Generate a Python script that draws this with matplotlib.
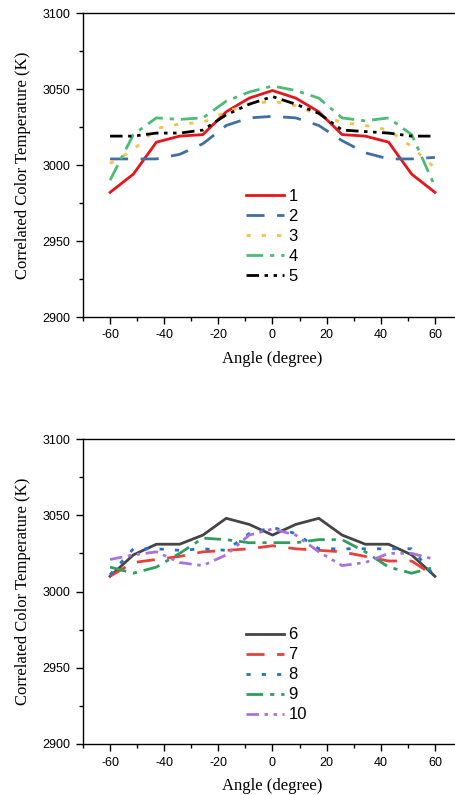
import numpy as np
import matplotlib
matplotlib.use('Agg')
import matplotlib.pyplot as plt

plt.rcParams['lines.scale_dashes'] = False
plt.rcParams['axes.unicode_minus'] = False

# Açılar (-60..60, 15 nokta)
angles = [-60, -51.4, -42.9, -34.3, -25.7, -17.1, -8.6, 0,
          8.6, 17.1, 25.7, 34.3, 42.9, 51.4, 60]

# Üst grafik verileri
cct1 = [2982, 2994, 3015, 3019, 3020, 3035, 3044, 3049, 3044, 3035, 3020, 3019, 3015, 2994, 2982]
cct2 = [3004, 3004, 3004, 3007, 3014, 3026, 3031, 3032, 3031, 3026, 3016, 3008, 3004, 3004, 3005]
cct3 = [3001, 3010, 3024, 3027, 3028, 3035, 3040, 3042, 3039, 3033, 3028, 3026, 3023, 3012, 2998]
cct4 = [2990, 3020, 3031, 3030, 3031, 3042, 3048, 3052, 3049, 3044, 3031, 3029, 3031, 3020, 2986]
cct5 = [3019, 3019, 3021, 3021, 3023, 3033, 3040, 3045, 3040, 3034, 3023, 3022, 3021, 3019, 3019]

# Alt grafik verileri
cct6 = [3010, 3024, 3031, 3031, 3037, 3048, 3044, 3037, 3044, 3048, 3037, 3031, 3031, 3024, 3010]
cct7 = [3010, 3019, 3021, 3023, 3026, 3027, 3028, 3030, 3028, 3027, 3026, 3023, 3020, 3020, 3010]
cct8 = [3011, 3028, 3028, 3027, 3028, 3027, 3038, 3042, 3038, 3028, 3028, 3028, 3028, 3028, 3010]
cct9 = [3016, 3012, 3016, 3025, 3035, 3034, 3032, 3032, 3032, 3034, 3034, 3026, 3016, 3012, 3016]
cct10 = [3021, 3024, 3026, 3019, 3017, 3024, 3037, 3041, 3037, 3026, 3017, 3019, 3025, 3025, 3021]

labels_top = ['1', '2', '3', '4', '5']
labels_bot = ['6', '7', '8', '9', '10']

tick_font = 'Liberation Sans'
label_font = 'Liberation Serif'

fig = plt.figure(figsize=(4.56, 7.95), dpi=100)
ax1 = fig.add_axes([83 / 456, 1 - 317 / 795, 379 / 456, 304 / 795])
ax2 = fig.add_axes([83 / 456, 1 - 744 / 795, 379 / 456, 305 / 795])

styles_top = [
    ('#e8141c', '-'),
    ('#3f6fa3', (0, (13, 9))),
    ('#f7c244', (0, (3, 8))),
    ('#4cbb74', (0, (12, 5, 3, 5))),
    ('#000000', (0, (9, 4, 2.5, 4, 2.5, 4))),
]
styles_bot = [
    ('#454545', '-'),
    ('#e8413b', (0, (13, 9))),
    ('#2270cf', (0, (3, 8))),
    ('#2f9d5c', (0, (12, 5, 3, 5))),
    ('#aa72d9', (0, (9, 4, 2.5, 4, 2.5, 4))),
]

for ax, series, styles, labels, leg_y in [
        (ax1, [cct1, cct2, cct3, cct4, cct5], styles_top, labels_top, 0.422),
        (ax2, [cct6, cct7, cct8, cct9, cct10], styles_bot, labels_bot, 0.382)]:
    for ys, (c, ls), lab in zip(series, styles, labels):
        ax.plot(angles, ys, color=c, linestyle=ls, linewidth=2.0, label=lab)
    ax.set_xlim(-70, 70)
    ax.set_ylim(2900, 3100)
    ax.set_xticks(np.arange(-60, 61, 20))
    ax.set_xticks(np.arange(-70, 71, 10), minor=True)
    ax.set_yticks(np.arange(2900, 3101, 50))
    ax.set_yticks(np.arange(2900, 3101, 25), minor=True)
    ax.tick_params(which='major', direction='out', length=5, width=1, pad=4)
    ax.tick_params(which='minor', direction='out', length=3, width=1)
    for t in ax.get_xticklabels() + ax.get_yticklabels():
        t.set_fontfamily(tick_font)
        t.set_fontsize(9)
    ax.set_xlabel('Angle (degree)', fontfamily=label_font, fontsize=12, labelpad=7)
    ax.set_ylabel('Correlated Color Temperature (K)', fontfamily=label_font, fontsize=12, labelpad=8)
    for s in ax.spines.values():
        s.set_linewidth(1)
    ax.spines['right'].set_visible(False)
    ax.legend(loc='upper left', bbox_to_anchor=(0.43, leg_y), frameon=False,
              prop={'family': tick_font, 'size': 12}, handlelength=2.3,
              handletextpad=0.25, labelspacing=0.3, borderpad=0, borderaxespad=0)

fig.savefig('out.png', dpi=100)
